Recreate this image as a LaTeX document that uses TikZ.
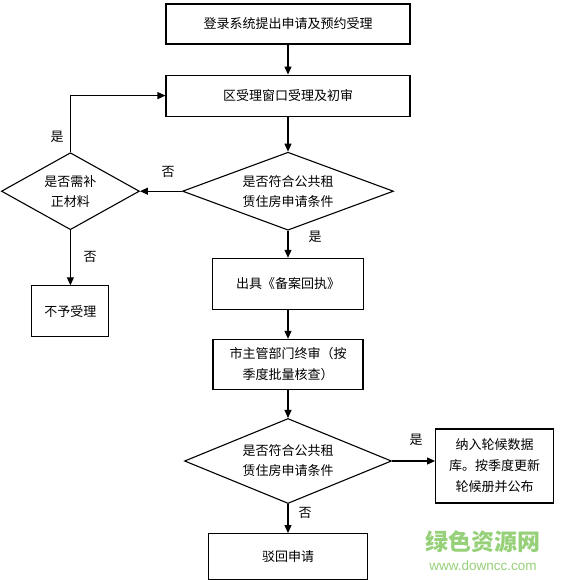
\documentclass[tikz,border=0pt]{standalone}
\usepackage{fontspec}
\setmainfont{Noto Sans CJK SC}
\newfontfamily\latinsans{Liberation Sans}
\usepackage{tikz}
\usetikzlibrary{arrows.meta,positioning,shapes.geometric}
\definecolor{wmgreen}{RGB}{150,208,120}

\begin{document}
\begin{tikzpicture}[
x=1pt, y=-1pt,
box/.style={draw, line width=1.1pt, align=center, inner sep=0pt, font=\fontsize{13}{21}\selectfont},
decide/.style={draw, diamond, aspect=2.5, line width=1.1pt, align=center, inner sep=0pt, font=\fontsize{13}{20}\selectfont},
lbl/.style={font=\fontsize{13}{13}\selectfont},
arrow/.style={-{Triangle[length=8pt,width=7pt]}, line width=1.1pt}
]
\useasboundingbox (0,0) rectangle (560,580);

\node[box, minimum width=244pt, minimum height=40pt] (apply) at (288,24) {登录系统提出申请及预约受理};
\node[box, below=30pt of apply, minimum width=244pt, minimum height=41pt] (window) {区受理窗口受理及初审};
\node[decide, below=35pt of window, minimum width=211pt, minimum height=78pt] (check1) {是否符合公共租\\赁住房申请条件};
\node[box, below=27pt of check1, minimum width=151pt, minimum height=51pt] (receipt) {出具《备案回执》};
\node[box, below=29pt of receipt, minimum width=150pt, minimum height=50pt] (final) {市主管部门终审（按\\季度批量核查）};
\node[decide, below=28pt of final, minimum width=207pt, minimum height=85pt] (check2) {是否符合公共租\\赁住房申请条件};
\node[box, below=29pt of check2, minimum width=159pt, minimum height=46pt] (reject) {驳回申请};
\node[box, right=43pt of check2, yshift=-5pt, minimum width=118pt, minimum height=74pt] (queue) {纳入轮候数据\\库。按季度更新\\轮候册并公布};
\node[decide, left=42pt of check1, minimum width=138pt, minimum height=77pt] (supp) {是否需补\\正材料};
\node[box, below=55pt of supp, minimum width=77pt, minimum height=51pt] (refuse) {不予受理};

% yes / no labels
\node[lbl] (yes1) at (57,137) {是};
\node[lbl] (no1) at (168,172) {否};
\node[lbl] (no2) at (90,257) {否};
\node[lbl] (yes2) at (315,237) {是};
\node[lbl] (yes3) at (416,440) {是};
\node[lbl] (no3) at (305,513) {否};

\draw[arrow] (apply) -- (window);
\draw[arrow] (window) -- (check1);
\draw[arrow] (check1) -- (receipt);
\draw[arrow] (receipt) -- (final);
\draw[arrow] (final) -- (check2);
\draw[arrow] (check2) -- (reject);
\draw[arrow] (check2.east) -- (check2.east -| queue.west);
\draw[arrow] (check1) -- (supp);
\draw[arrow] (supp) -- (refuse);
\draw[arrow] (supp.north) |- (window.west);

% watermark
\node[text=wmgreen, font=\fontsize{23}{23}\selectfont\bfseries] (wm) at (483,542) {绿色资源网};
\node[text=wmgreen, font=\latinsans\fontsize{13.5}{13.5}\selectfont, below=1pt of wm] (wmurl) {www.downcc.com};
\end{tikzpicture}
\end{document}
